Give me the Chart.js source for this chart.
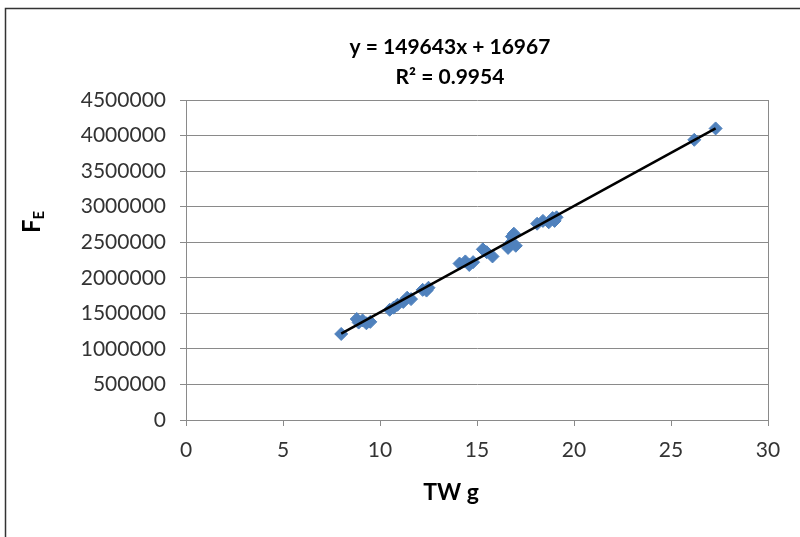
<!DOCTYPE html>
<html>
<head>
<meta charset="utf-8">
<script src="https://cdn.jsdelivr.net/npm/chart.js@4/dist/chart.umd.min.js"></script>
<style>
  html, body { margin: 0; padding: 0; background: #fff; }
  #wrap { width: 800px; height: 537px; position: relative; }
</style>
</head>
<body>
<div id="wrap"><canvas id="scatterChart"></canvas></div>
<script>
// TW g values and matching F_E values
const twValues = [8.0, 8.8, 8.9, 9.1, 9.3, 9.5, 10.5, 10.7, 10.9, 11.2, 11.4, 11.6,
    12.2, 12.4, 12.5, 14.1, 14.4, 14.6, 14.8, 15.3, 15.5, 15.8, 16.6, 16.7, 16.8,
    16.9, 17.0, 18.1, 18.4, 18.7, 18.9, 19.0, 19.1, 26.2, 27.3];
const feValues = [1210000, 1420000, 1370000, 1400000, 1360000, 1380000, 1550000, 1580000,
    1620000, 1660000, 1720000, 1700000, 1830000, 1820000, 1860000, 2200000, 2230000,
    2180000, 2220000, 2400000, 2360000, 2300000, 2420000, 2480000, 2580000, 2620000,
    2450000, 2760000, 2800000, 2780000, 2840000, 2800000, 2850000, 3940000, 4100000];

// linear trendline shown on the chart
const trendSlope = 149643;
const trendIntercept = 16967;
const trendX = [8.0, 27.3];

const titleLines = ['y = 149643x + 16967', 'R\u00B2 = 0.9954'];
const xTitle = 'TW g';

const xTicks = { min: 0, max: 30, step: 5 };
const yTicks = { min: 0, max: 4500000, step: 500000 };

const gridColor = '#8a8a8a';
const fontFamily = 'Lato, "Open Sans", sans-serif';

document.addEventListener('DOMContentLoaded', function() {
    const points = twValues.map((x, i) => ({ x: x, y: feValues[i] }));
    const trendPoints = trendX.map(x => ({ x: x, y: trendSlope * x + trendIntercept }));

    // draws frame, plot border and the titles
    const decorations = {
        id: 'decorations',
        beforeDraw(chart) {
            const ctx = chart.ctx;
            ctx.save();
            ctx.fillStyle = '#fff';
            ctx.fillRect(0, 0, chart.width, chart.height);
            ctx.restore();
        },
        afterDraw(chart) {
            const ctx = chart.ctx;
            const area = chart.chartArea;
            ctx.save();

            // outer chart frame (left and top visible)
            ctx.strokeStyle = '#333';
            ctx.lineWidth = 1.5;
            ctx.beginPath();
            ctx.moveTo(5.5, chart.height);
            ctx.lineTo(5.5, 8.5);
            ctx.lineTo(chart.width, 8.5);
            ctx.stroke();

            // right edge of plot area
            ctx.strokeStyle = gridColor;
            ctx.lineWidth = 1;
            ctx.beginPath();
            ctx.moveTo(Math.round(area.right) + 0.5, area.top);
            ctx.lineTo(Math.round(area.right) + 0.5, area.bottom);
            ctx.stroke();

            // equation title
            ctx.fillStyle = '#000';
            ctx.textAlign = 'center';
            ctx.textBaseline = 'middle';
            ctx.font = 'bold 21px ' + fontFamily;
            ctx.fillText(titleLines[0], 450, 47);
            ctx.fillText(titleLines[1], 450, 77);

            // x axis title
            ctx.font = 'bold 23px ' + fontFamily;
            ctx.fillText(xTitle, 451, 493);

            // y axis title F with subscript E
            ctx.translate(32, 222);
            ctx.rotate(-Math.PI / 2);
            ctx.textAlign = 'left';
            ctx.font = 'bold 24px ' + fontFamily;
            const fWidth = ctx.measureText('F').width;
            ctx.font = 'bold 15px ' + fontFamily;
            const eWidth = ctx.measureText('E').width;
            const start = -(fWidth + eWidth) / 2;
            ctx.font = 'bold 24px ' + fontFamily;
            ctx.fillText('F', start, 0);
            ctx.font = 'bold 15px ' + fontFamily;
            ctx.fillText('E', start + fWidth, 7);

            ctx.restore();
        }
    };

    const ctx = document.getElementById('scatterChart').getContext('2d');
    new Chart(ctx, {
        type: 'scatter',
        data: {
            datasets: [
                {
                    label: 'Trendline',
                    data: trendPoints,
                    showLine: true,
                    borderColor: '#000',
                    borderWidth: 2.5,
                    pointRadius: 0,
                    order: 0
                },
                {
                    label: 'F_E',
                    data: points,
                    pointStyle: 'rectRot',
                    pointRadius: 6.5,
                    backgroundColor: '#4f81bd',
                    borderColor: '#4f81bd',
                    borderWidth: 1,
                    order: 1
                }
            ]
        },
        options: {
            responsive: true,
            maintainAspectRatio: false,
            animation: false,
            layout: {
                padding: { left: 0, right: 32, top: 100, bottom: 0 }
            },
            plugins: {
                legend: { display: false },
                tooltip: { enabled: false }
            },
            scales: {
                x: {
                    type: 'linear',
                    min: xTicks.min,
                    max: xTicks.max,
                    afterFit: function(scale) { scale.height = 117; },
                    ticks: {
                        stepSize: xTicks.step,
                        color: '#333',
                        padding: 12,
                        font: { family: fontFamily, size: 21 }
                    },
                    grid: {
                        drawOnChartArea: false,
                        color: gridColor,
                        tickLength: 6
                    },
                    border: { color: gridColor }
                },
                y: {
                    min: yTicks.min,
                    max: yTicks.max,
                    afterFit: function(scale) { scale.width = 186; },
                    ticks: {
                        stepSize: yTicks.step,
                        color: '#333',
                        padding: 14,
                        font: { family: fontFamily, size: 21 },
                        callback: function(value) { return String(value); }
                    },
                    grid: {
                        color: gridColor,
                        tickLength: 6
                    },
                    border: { color: gridColor }
                }
            }
        },
        plugins: [decorations]
    });
});
</script>
</body>
</html>
